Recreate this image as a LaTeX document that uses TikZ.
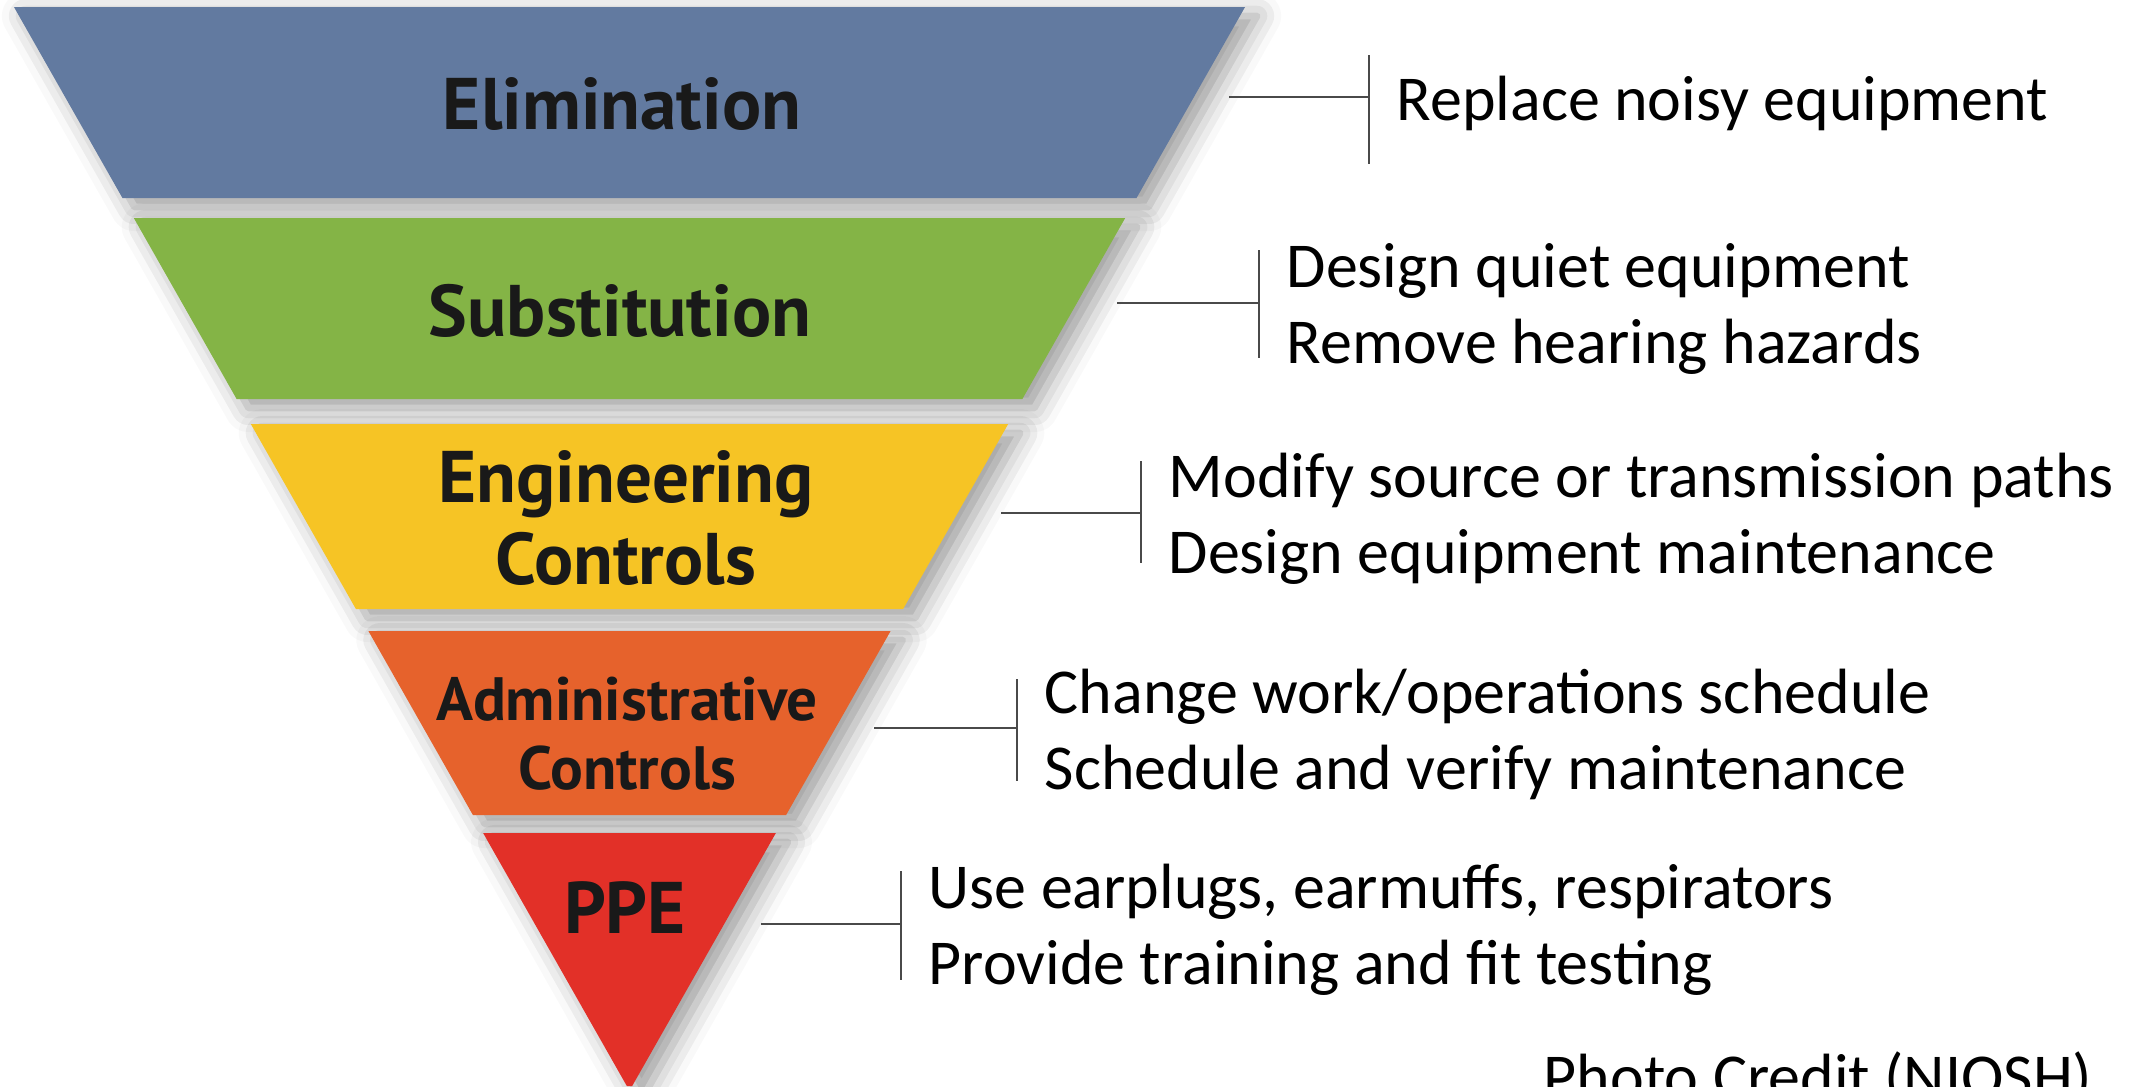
\documentclass[tikz,border=0pt]{standalone}
\usepackage{fontspec}
\setmainfont{Carlito}
\newfontfamily\bandfont{PT Sans}
\usetikzlibrary{positioning,shadows.blur}

\definecolor{elimblue}{HTML}{627AA0}
\definecolor{substgreen}{HTML}{84B446}
\definecolor{enggold}{HTML}{F6C425}
\definecolor{adminorange}{HTML}{E6622C}
\definecolor{ppered}{HTML}{E23028}
\definecolor{linkgrey}{HTML}{4A4A4A}

\begin{document}
\begin{tikzpicture}[
x=0.1mm, y=-0.1mm,
band/.style={fill=#1, blur shadow={shadow xshift=1.2mm, shadow yshift=-0.9mm,
  shadow blur radius=2.4mm, shadow opacity=40}},
tier/.style={font=\bandfont\bfseries\fontsize{20.8}{23.3}\selectfont, text=black!90,
  align=center, inner sep=0pt},
note/.style={font=\fontsize{18.2}{21.6}\selectfont, align=left, anchor=west,
  inner sep=0pt, yshift=-0.6mm},
link/.style={draw=linkgrey, line width=0.6pt}]
\useasboundingbox (0,0) rectangle (2141,1086);

% the funnel: one trapezoid per tier, edges on x = 14+0.568(y-7) and its mirror
\foreach \top/\bot/\col in {7/198/elimblue, 218/399/substgreen, 424/609/enggold,
    631/815/adminorange, 833/1086/ppered}
  \fill[band=\col] (14+0.568*\top-4,\top) -- (1245-0.568*\top+4,\top)
    -- (1245-0.568*\bot+4,\bot) -- (14+0.568*\bot-4,\bot) -- cycle;

% tier names
\node[tier, anchor=base] (elim) at (622,129) {Elimination};
\node[tier, anchor=base] (subst) at (620,336) {Substitution};
\node[tier] (eng) at (626,518) {Engineering\\Controls};
\node[tier, font=\bandfont\bfseries\fontsize{17.4}{19.7}\selectfont] (admin) at (627,734)
  {Administrative\\Controls};
\node[tier, anchor=base] (ppe) at (625,933) {PPE};

% leaders to the examples
\coordinate (elim-from) at (1229,97);   \coordinate (elim-bar) at (1369,97);
\coordinate (subst-from) at (1117,303); \coordinate (subst-bar) at (1259,303);
\coordinate (eng-from) at (1001,513);   \coordinate (eng-bar) at (1141,513);
\coordinate (admin-from) at (874,728);  \coordinate (admin-bar) at (1017,728);
\coordinate (ppe-from) at (761,924);    \coordinate (ppe-bar) at (901,924);

\draw[link] (elim-from) -- (elim-bar) (elim-bar) ++(0,-42) -- ++(0,109);
\draw[link] (subst-from) -- (subst-bar) (subst-bar) ++(0,-53) -- ++(0,108);
\draw[link] (eng-from) -- (eng-bar) (eng-bar) ++(0,-52) -- ++(0,102);
\draw[link] (admin-from) -- (admin-bar) (admin-bar) ++(0,-49) -- ++(0,102);
\draw[link] (ppe-from) -- (ppe-bar) (ppe-bar) ++(0,-53) -- ++(0,109);

\node[note, right=2.7mm of elim-bar] (elim-note) {Replace noisy equipment};
\node[note, right=2.7mm of subst-bar] (subst-note) {Design quiet equipment\\Remove hearing hazards};
\node[note, right=2.7mm of eng-bar] (eng-note)
  {Modify source or transmission paths\\Design equipment maintenance};
\node[note, right=2.7mm of admin-bar] (admin-note)
  {Change work/operations schedule\\Schedule and verify maintenance};
\node[note, right=2.7mm of ppe-bar] (ppe-note)
  {Use earplugs, earmuffs, respirators\\Provide training and fit testing};

\node[note, anchor=base west] (credit) at (1543,1092) {Photo Credit (NIOSH)};
\end{tikzpicture}
\end{document}
